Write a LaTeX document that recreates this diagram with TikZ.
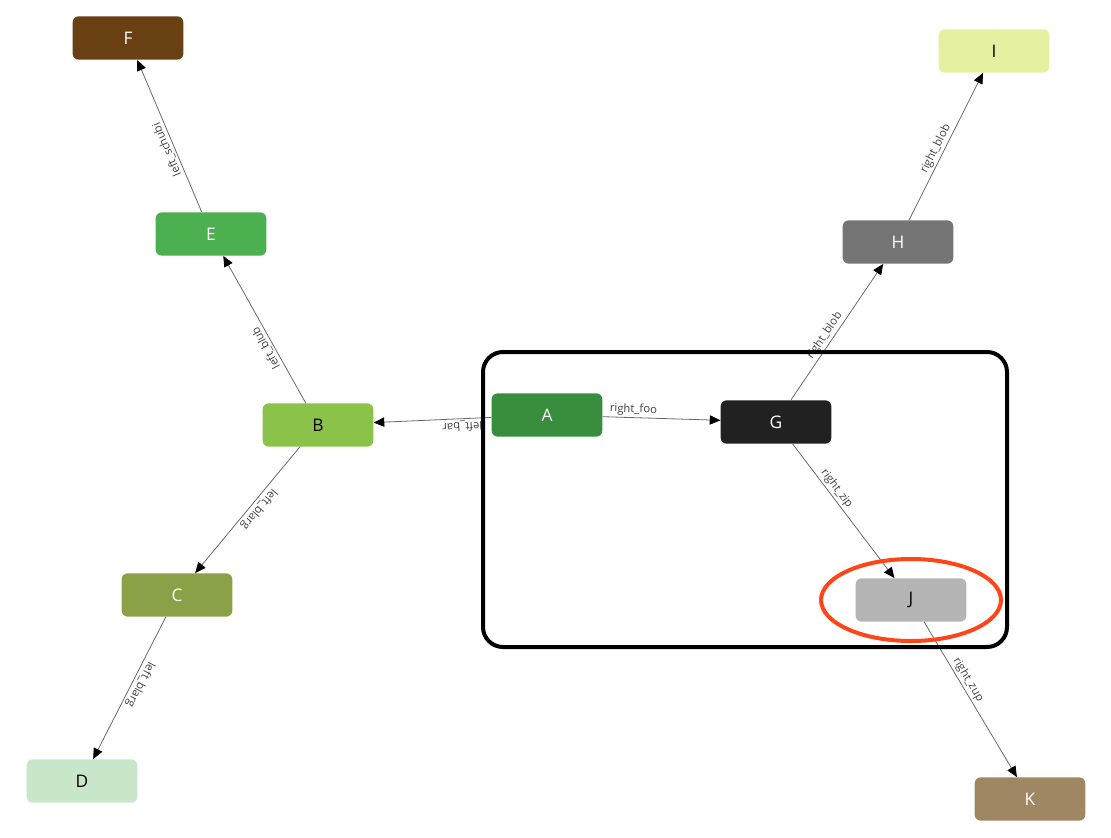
\documentclass[tikz,border=0pt]{standalone}
\usepackage{fontspec}
\setmainfont{Open Sans}
\definecolor{LeafBrown}{RGB}{104,64,18}
\definecolor{LeafGreen}{RGB}{76,175,80}
\definecolor{LimeGreen}{RGB}{139,195,74}
\definecolor{OliveGreen}{RGB}{138,161,72}
\definecolor{MintGreen}{RGB}{200,230,201}
\definecolor{ForestGreen}{RGB}{56,142,60}
\definecolor{CoalBlack}{RGB}{33,33,33}
\definecolor{MidGrey}{RGB}{117,117,117}
\definecolor{PaleLime}{RGB}{230,240,160}
\definecolor{SilverGrey}{RGB}{180,180,180}
\definecolor{SandBrown}{RGB}{160,135,100}
\definecolor{LinkGrey}{RGB}{105,105,105}
\definecolor{MarkRed}{RGB}{255,69,25}
\usetikzlibrary{arrows.meta}
\tikzset{
  tag/.style={rectangle,rounded corners=4.5pt,minimum width=83pt,minimum height=32.5pt,inner sep=0pt,font=\fontsize{13}{15}\selectfont},
  darktag/.style={tag,text=white},
  lighttag/.style={tag,text=black},
  link/.style={-{Triangle[length=8pt,width=7pt,color=black]},draw=LinkGrey,line width=0.6pt},
  linklabel/.style={sloped,allow upside down,above,inner sep=1.5pt,font=\fontsize{8.5}{10}\selectfont,text=black!75},
  groupframe/.style={draw=black,line width=3pt,rounded corners=15pt},
  markring/.style={draw=MarkRed,line width=3pt},
}
\begin{document}
\begin{tikzpicture}[x=0.75pt,y=-0.75pt]
    \useasboundingbox (0,0) rectangle (1111,838);
    \node[darktag,fill=LeafBrown] (F) at (128,38) {F};
    \node[darktag,fill=LeafGreen] (E) at (211,234) {E};
    \node[lighttag,fill=LimeGreen] (B) at (318,425) {B};
    \node[darktag,fill=OliveGreen] (C) at (177,595) {C};
    \node[lighttag,fill=MintGreen] (D) at (82,781) {D};
    \node[darktag,fill=ForestGreen] (A) at (547,415) {A};
    \node[darktag,fill=CoalBlack] (G) at (776,422) {G};
    \node[darktag,fill=MidGrey] (H) at (898,242) {H};
    \node[lighttag,fill=PaleLime] (I) at (994,51) {I};
    \node[lighttag,fill=SilverGrey] (J) at (911,600) {J};
    \node[darktag,fill=SandBrown] (K) at (1030,799) {K};
    % left branch
    \draw[link] (A) -- node[linklabel,pos=0.25]{left\_bar} (B);
    \draw[link] (B) -- node[linklabel,pos=0.4]{left\_blub} (E);
    \draw[link] (E) -- node[linklabel,pos=0.43]{left\_schubi} (F);
    \draw[link] (B) -- node[linklabel,pos=0.45]{left\_blarg} (C);
    \draw[link] (C) -- node[linklabel,pos=0.45]{left\_blarg} (D);
    % right branch
    \draw[link] (A) -- node[linklabel,pos=0.26]{right\_foo} (G);
    \draw[link] (G) -- node[linklabel,pos=0.44]{right\_blob} (H);
    \draw[link] (H) -- node[linklabel,pos=0.46]{right\_blob} (I);
    \draw[link] (G) -- node[linklabel,pos=0.37]{right\_zip} (J);
    \draw[link] (J) -- node[linklabel,pos=0.4]{right\_zup} (K);
    \draw[groupframe] (483,352) rectangle (1007,647);
    \draw[markring] (J.center) ellipse [x radius=90,y radius=41];
  \end{tikzpicture}
\end{document}
